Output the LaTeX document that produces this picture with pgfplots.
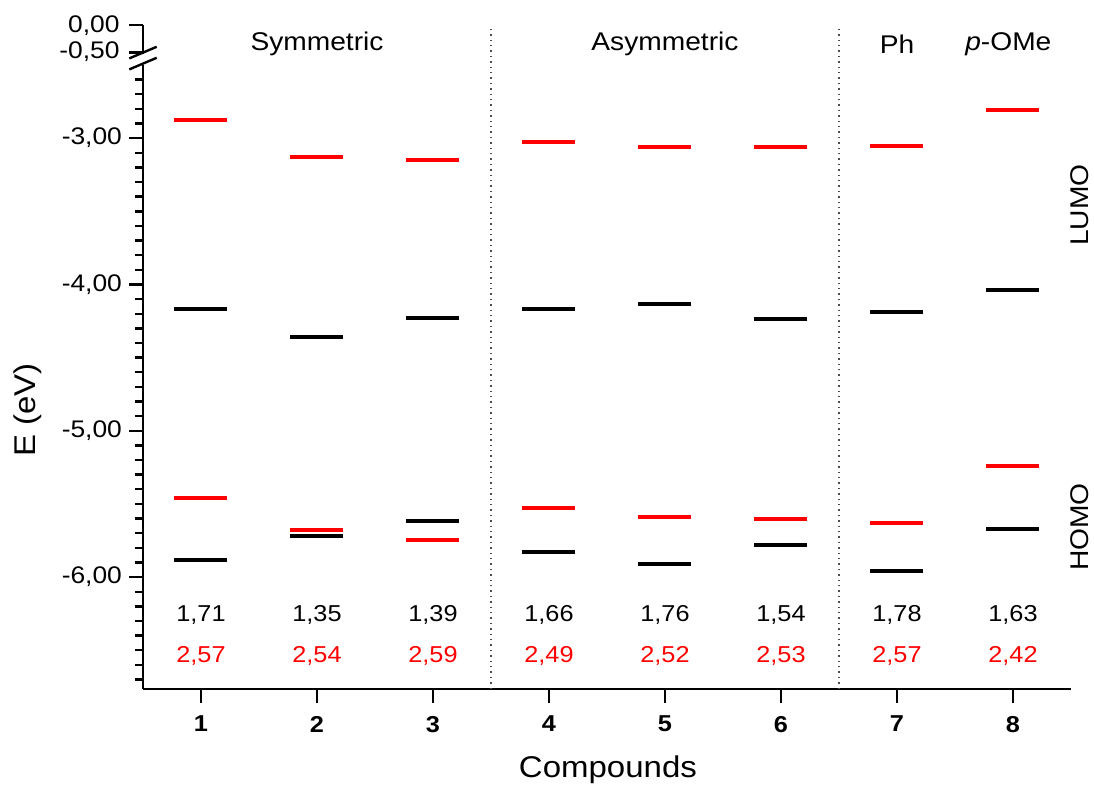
\documentclass[border=0pt]{standalone}
\usepackage{fontspec}
\setmainfont{Liberation Sans}[FakeStretch=1.1]
\usepackage{pgfplots}
\pgfplotsset{compat=1.18}
\newcommand{\tl}{\fontsize{12}{13}\selectfont}
\begin{document}
\begin{tikzpicture}
\useasboundingbox (-71.5pt,-49pt) rectangle (475.5pt,344.5pt);
\pgfplotsset{
  common/.style={
    scale only axis, width=464pt, xmin=0.5, xmax=8.5,
    /pgf/number format/assume math mode=true,
    /pgf/number format/fixed,
    /pgf/number format/fixed zerofill,
    /pgf/number format/precision=2,
    /pgf/number format/use comma,
  },
  fixlines/.style={
    axis line style={-, line width=1.2pt},
    x axis line style={-}, y axis line style={-},
    tick align=outside,
    major tick length=7pt, minor tick length=4pt,
    every tick/.style={line width=1.2pt, black},
    yticklabel style={font=\tl},
  }
}
% upper (broken) segment
\begin{axis}[common, at={(0pt,317.7pt)}, anchor=south west, height=14.3pt,
  ymin=-0.52, ymax=0, axis x line=none, axis y line=left, fixlines,
  ytick={0,-0.5}, yticklabels={}]
\addplot[draw=none] coordinates {(1,-0.2)};
\end{axis}
% tick labels of the upper segment
\node[anchor=base east, inner sep=0pt, font=\tl] at (-11.5pt,328.2pt) {0,00};
\node[anchor=base east, inner sep=0pt, font=\tl] at (-11.5pt,315.2pt) {-0,50};
% lower main axis
\begin{axis}[common, at={(0pt,0pt)}, anchor=south west, height=312pt,
  ymin=-6.765, ymax=-2.5, clip=false,
  axis x line=bottom, axis y line=left, fixlines,
  xtick={1,2,3,4,5,6,7,8}, xticklabels={1,2,3,4,5,6,7,8},
  xticklabel style={font=\bfseries\fontsize{11.5}{13}\selectfont, yshift=-3pt},
  ytick={-6,-5,-4,-3},
  minor ytick={-6.7,-6.6,-6.5,-6.4,-6.3,-6.2,-6.1,-5.9,-5.8,-5.7,-5.6,-5.5,-5.4,-5.3,-5.2,-5.1,-4.9,-4.8,-4.7,-4.6,-4.5,-4.4,-4.3,-4.2,-4.1,-3.9,-3.8,-3.7,-3.6,-3.5,-3.4,-3.3,-3.2,-3.1,-2.9,-2.8,-2.7,-2.6},
  xlabel={Compounds}, ylabel={E (eV)},
  xlabel style={font=\fontsize{15}{17}\selectfont, at={(axis description cs:0.501,-0.13)}, anchor=center},
  ylabel style={font=\fontsize{15}{17}\selectfont, at={(axis description cs:-0.124,0.447)}, anchor=center},
]
% LUMO, red
\addplot[only marks, mark=-, mark size=13.25pt, mark options={red, line width=2pt}] coordinates {
 (1,-2.877) (2,-3.13) (3,-3.15) (4,-3.027) (5,-3.06) (6,-3.06) (7,-3.055) (8,-2.81)};
% LUMO, black
\addplot[only marks, mark=-, mark size=13.25pt, mark options={black, line width=2pt}] coordinates {
 (1,-4.171) (2,-4.362) (3,-4.232) (4,-4.171) (5,-4.137) (6,-4.239) (7,-4.185) (8,-4.041)};
% HOMO, red
\addplot[only marks, mark=-, mark size=13.25pt, mark options={red, line width=2pt}] coordinates {
 (1,-5.457) (2,-5.68) (3,-5.75) (4,-5.53) (5,-5.59) (6,-5.60) (7,-5.63) (8,-5.24)};
% HOMO, black
\addplot[only marks, mark=-, mark size=13.25pt, mark options={black, line width=2pt}] coordinates {
 (1,-5.88) (2,-5.716) (3,-5.62) (4,-5.83) (5,-5.91) (6,-5.78) (7,-5.96) (8,-5.67)};
% separators
\draw[dotted, line width=0.7pt, black!70] (axis cs:3.5,-6.765) -- (axis cs:3.5,-2.254);
\draw[dotted, line width=0.7pt, black!70] (axis cs:6.5,-6.765) -- (axis cs:6.5,-2.254);
% group labels
\begin{scope}[every node/.style={font=\fontsize{12.8}{14}\selectfont}]
\node at (axis cs:2,-2.356) {Symmetric};
\node at (axis cs:5,-2.356) {Asymmetric};
\node at (axis cs:7,-2.356) {Ph};
\node at (axis cs:7.96,-2.356) {\textit{p}-OMe};
\node[rotate=90] at (axis cs:8.578,-3.458) {LUMO};
\node[rotate=90] at (axis cs:8.578,-5.658) {HOMO};
\end{scope}
% gap values
\begin{scope}[every node/.style={font=\fontsize{11.5}{12}\selectfont}]
\node at (axis cs:1,-6.26) {1,71}; \node at (axis cs:2,-6.26) {1,35};
\node at (axis cs:3,-6.26) {1,39}; \node at (axis cs:4,-6.26) {1,66};
\node at (axis cs:5,-6.26) {1,76}; \node at (axis cs:6,-6.26) {1,54};
\node at (axis cs:7,-6.26) {1,78}; \node at (axis cs:8,-6.26) {1,63};
\node[red] at (axis cs:1,-6.54) {2,57}; \node[red] at (axis cs:2,-6.54) {2,54};
\node[red] at (axis cs:3,-6.54) {2,59}; \node[red] at (axis cs:4,-6.54) {2,49};
\node[red] at (axis cs:5,-6.54) {2,52}; \node[red] at (axis cs:6,-6.54) {2,53};
\node[red] at (axis cs:7,-6.54) {2,57}; \node[red] at (axis cs:8,-6.54) {2,42};
\end{scope}
\end{axis}
% axis break marks
\draw[line width=1.2pt] (-6.85pt,315.3pt) -- (6.85pt,321.1pt);
\draw[line width=1.2pt] (-6.85pt,309.8pt) -- (6.85pt,315.6pt);
\end{tikzpicture}
\end{document}
